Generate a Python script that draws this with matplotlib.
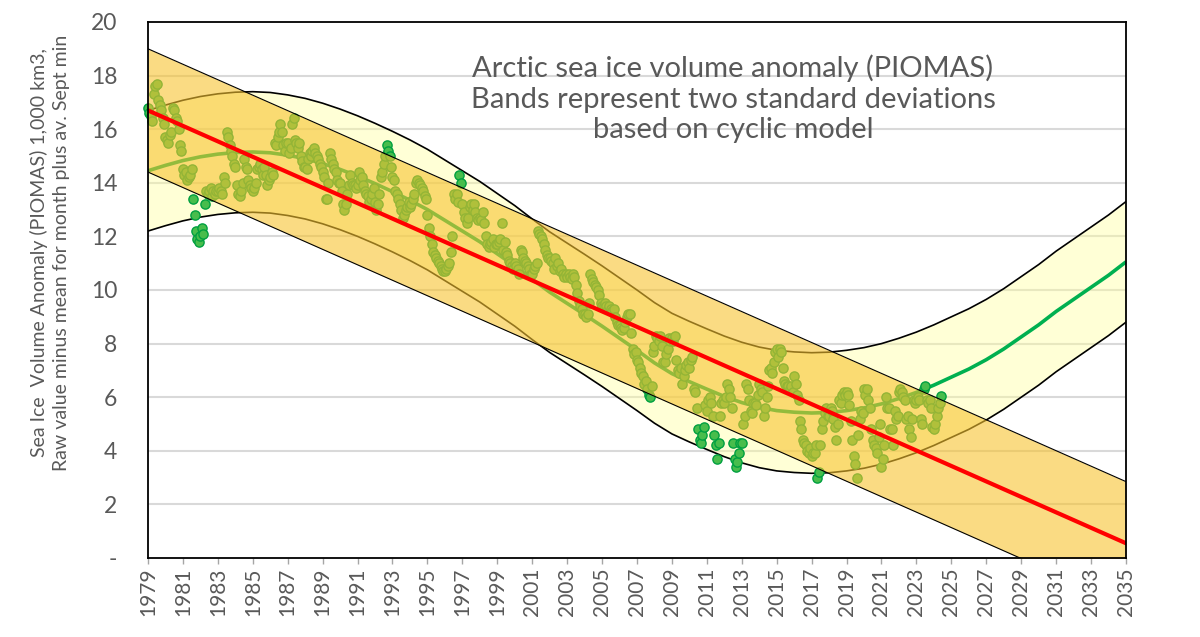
import numpy as np
import matplotlib
matplotlib.use("Agg")
import matplotlib.pyplot as plt

plt.rcParams['font.family'] = ['Lato', 'DejaVu Sans']

# ---------------- data ----------------
# monthly values (Jan..Dec), 1,000 km3
vals_1979_1988 = [
    [16.8, 16.6, 16.5, 16.3, 17.3, 17.6, 17.7, 17.1, 16.9, 16.7, 16.4, 16.2],
    [15.7, 15.6, 15.5, 15.8, 15.9, 16.8, 16.7, 16.4, 16.3, 16.0, 15.4, 15.2],
    [14.5, 14.3, 14.4, 14.1, 14.2, 14.3, 14.5, 13.4, 12.8, 12.2, 11.9, 11.8],
    [12.0, 12.3, 12.1, 13.2, 13.7, 13.6, 13.7, 13.8, 13.5, 13.7, 13.6, 13.7],
    [13.7, 13.8, 13.7, 13.6, 14.2, 14.0, 15.9, 15.7, 15.4, 15.2, 15.0, 14.7],
    [14.6, 13.9, 13.6, 13.5, 13.7, 14.0, 14.9, 14.6, 14.5, 14.1, 13.9, 13.8],
    [13.7, 13.8, 14.0, 14.5, 14.6, 14.7, 14.5, 14.3, 14.6, 14.3, 13.9, 14.1],
    [14.2, 14.4, 14.3, 15.5, 15.4, 15.7, 15.9, 16.2, 15.9, 15.4, 15.2, 15.5],
    [15.5, 15.1, 15.3, 16.2, 16.4, 15.6, 15.5, 15.3, 15.5, 15.0, 14.8, 14.6],
    [14.6, 14.5, 14.9, 15.1, 15.0, 15.2, 15.3, 15.1, 15.0, 14.9, 14.7, 14.6],
]
vals_1989_1998 = [
    [14.4, 14.2, 13.4, 13.4, 14.0, 15.1, 14.9, 14.7, 14.5, 14.4, 14.1, 14.0],
    [14.0, 13.7, 13.2, 13.0, 13.2, 13.6, 13.9, 14.3, 14.0, 13.9, 13.9, 13.8],
    [13.9, 14.4, 14.1, 14.2, 13.9, 13.7, 13.6, 13.5, 13.3, 13.4, 13.6, 13.8],
    [13.3, 13.0, 13.2, 13.6, 14.2, 14.4, 14.7, 15.0, 15.4, 15.2, 15.0, 14.6],
    [14.2, 14.1, 13.7, 13.6, 13.4, 13.2, 13.0, 12.7, 12.8, 13.0, 13.1, 13.3],
    [13.1, 13.2, 13.4, 13.6, 14.0, 14.1, 14.0, 13.9, 13.8, 13.7, 13.5, 13.4],
    [12.8, 12.3, 12.0, 11.7, 11.4, 11.3, 11.2, 11.1, 11.0, 10.9, 10.8, 10.7],
    [10.7, 10.8, 10.9, 11.0, 11.4, 12.0, 13.6, 13.4, 13.6, 13.3, 14.3, 14.0],
    [13.2, 12.9, 12.7, 12.5, 12.7, 13.1, 13.2, 13.0, 13.2, 12.9, 12.7, 12.6],
    [12.7, 12.6, 12.9, 12.5, 12.0, 11.7, 11.6, 11.7, 11.8, 11.9, 11.6, 11.7],
]
vals_1999_2008 = [
    [11.7, 11.8, 11.9, 12.5, 11.5, 11.8, 11.4, 11.3, 11.1, 11.0, 10.9, 10.8],
    [11.0, 10.9, 10.8, 10.6, 11.5, 11.4, 11.2, 11.1, 11.0, 10.9, 10.8, 10.6],
    [10.6, 10.8, 10.9, 11.0, 12.2, 12.1, 12.0, 11.9, 11.7, 11.5, 11.3, 11.2],
    [11.2, 11.1, 11.0, 10.8, 11.2, 10.9, 11.0, 10.7, 10.8, 10.6, 10.5, 10.6],
    [10.5, 10.6, 10.5, 10.4, 10.6, 10.5, 10.2, 9.9, 9.6, 9.4, 9.3, 9.1],
    [9.1, 9.0, 9.1, 9.5, 10.6, 10.4, 10.3, 10.2, 10.1, 10.0, 9.8, 9.5],
    [9.4, 9.4, 9.5, 9.4, 9.3, 9.4, 9.3, 9.2, 9.3, 9.0, 8.8, 8.7],
    [8.7, 8.6, 8.5, 8.6, 8.8, 9.0, 9.1, 9.1, 8.4, 7.8, 7.6, 7.7],
    [7.4, 7.3, 7.1, 6.9, 6.8, 6.5, 6.6, 6.3, 6.1, 6.0, 6.4, 7.7],
    [7.9, 8.3, 8.2, 8.1, 8.3, 7.9, 7.3, 7.3, 7.6, 7.8, 8.2, 8.1],
]
vals_2009_2018 = [
    [8.2, 8.1, 8.3, 7.4, 7.0, 6.9, 7.1, 6.5, 6.8, 7.0, 7.2, 7.3],
    [7.1, 7.4, 7.5, 6.3, 6.2, 5.6, 4.8, 4.4, 4.3, 4.6, 4.9, 5.7],
    [5.5, 5.9, 6.0, 5.8, 5.3, 4.6, 4.2, 3.7, 4.3, 5.3, 5.8, 5.9],
    [5.8, 6.0, 6.5, 6.3, 6.0, 5.6, 4.3, 3.7, 3.4, 3.6, 3.9, 4.3],
    [4.3, 5.0, 5.3, 6.5, 6.3, 5.9, 5.5, 5.4, 5.8, 5.8, 5.7, 6.1],
    [6.5, 6.3, 6.2, 5.3, 5.6, 6.0, 6.4, 7.0, 7.1, 6.9, 7.3, 7.7],
    [7.8, 7.5, 7.8, 7.7, 7.1, 6.6, 6.5, 6.4, 6.4, 6.3, 6.4, 6.2],
    [6.8, 6.5, 6.1, 5.9, 5.1, 4.8, 4.4, 4.3, 4.2, 4.0, 3.9, 4.1],
    [3.8, 3.9, 3.9, 4.2, 3.0, 3.2, 4.2, 4.8, 5.1, 5.4, 5.6, 5.3],
    [5.3, 5.6, 5.5, 5.2, 4.9, 4.4, 5.0, 5.9, 5.8, 6.1, 6.2, 6.1],
]
vals_2019_2024 = [
    [6.2, 6.1, 5.7, 5.1, 4.4, 3.8, 3.5, 3.0, 4.6, 5.2, 5.5, 5.4],
    [6.3, 6.1, 6.3, 5.9, 5.6, 4.8, 4.4, 4.2, 4.1, 3.9, 4.5, 5.0],
    [3.4, 3.7, 4.2, 6.0, 5.6, 5.6, 4.8, 4.8, 4.2, 5.5, 5.2, 5.3],
    [6.2, 6.3, 6.2, 6.0, 5.9, 5.2, 5.3, 4.8, 4.5, 5.2, 5.9, 5.8],
    [5.9, 6.0, 5.9, 5.2, 5.0, 6.3, 6.4, 5.9, 5.8, 5.9, 5.6, 4.9],
    [4.8, 5.0, 5.3, 5.6, 5.8, 6.05],
]

# cyclic model (annual values)
model_years = list(range(1979, 2036))
model_vals = [14.45, 14.65, 14.83, 14.97, 15.07, 15.13, 15.15, 15.12, 15.03, 14.9,
              14.72, 14.5, 14.25, 13.97, 13.67, 13.35, 13.0, 12.6, 12.2, 11.8,
              11.35, 10.9, 10.4, 9.92, 9.5, 9.08, 8.65, 8.2, 7.75, 7.28,
              6.88, 6.58, 6.3, 6.03, 5.8, 5.62, 5.5, 5.44, 5.41, 5.43,
              5.5, 5.6, 5.75, 5.95, 6.18, 6.45, 6.75, 7.05, 7.4, 7.8,
              8.25, 8.7, 9.2, 9.65, 10.1, 10.55, 11.05]
model_band = 2.25          # two standard deviations (cyclic model)

# linear trend
trend_years = [1979, 2035]
trend_vals = [16.7, 0.55]
trend_band = 2.3           # two standard deviations (linear model)

x_ticks = list(range(1979, 2036, 2))
y_ticks = list(range(0, 21, 2))
y_ticklabels = ['-'] + [str(v) for v in y_ticks[1:]]

title = ("Arctic sea ice volume anomaly (PIOMAS)\n"
         "Bands represent two standard deviations\n"
         "based on cyclic model")
ylabel = ("Sea Ice  Volume Anomaly (PIOMAS) 1,000 km3,\n"
          "Raw value minus mean for month plus av. Sept min")

# ---------------- build series ----------------
first_year = 1979
obs_y = []
for block in (vals_1979_1988, vals_1989_1998, vals_1999_2008, vals_2009_2018, vals_2019_2024):
    for row in block:
        obs_y.extend(row)
obs_y = np.array(obs_y)
obs_x = first_year + np.arange(len(obs_y)) / 12.0

my = np.array(model_years, dtype=float)
mv = np.array(model_vals)
ty = np.array(trend_years, dtype=float)
tv = np.array(trend_vals)

# ---------------- figure ----------------
W, H = 1200, 637
fig = plt.figure(figsize=(W / 100, H / 100), dpi=100)
L, R, T, B = 148, 1126, 22, 558
ax = fig.add_axes([L / W, (H - B) / H, (R - L) / W, (B - T) / H])

grey = '#595959'
for v in y_ticks[1:-1]:
    ax.axhline(v, color='#d9d9d9', lw=1.5, zorder=0)

# cyclic band
ax.fill_between(my, mv - model_band, mv + model_band, color='#ffff99', alpha=0.4,
                lw=0, zorder=1)
ax.plot(my, mv + model_band, color='black', lw=1.2, zorder=2)
ax.plot(my, mv - model_band, color='black', lw=1.2, zorder=2)
ax.plot(my, mv, color='#00b050', lw=2.6, zorder=3, solid_capstyle='butt')

# observations
ax.scatter(obs_x, obs_y, s=44, facecolor='#48bd4c', edgecolor='#00a040',
           linewidths=1.0, zorder=4, clip_on=False)

# trend band (semi transparent, on top)
ax.fill_between(ty, tv - trend_band, tv + trend_band, color='#f7c330', alpha=0.6,
                lw=0, zorder=5)
ax.plot(ty, tv + trend_band, color='black', lw=0.8, zorder=6)
ax.plot(ty, tv - trend_band, color='black', lw=0.8, zorder=6)
ax.plot(ty, tv, color='#ff0000', lw=3.0, zorder=7)

ax.set_xlim(1979, 2035)
ax.set_ylim(0, 20)
ax.set_xticks(x_ticks)
ax.set_xticklabels([str(t) for t in x_ticks], rotation=90, fontsize=15, color=grey)
ax.set_yticks(y_ticks)
ax.set_yticklabels(y_ticklabels, fontsize=16.5, color=grey)
ax.tick_params(axis='x', length=4, width=1, color='#a6a6a6', pad=3, direction='out')
ax.tick_params(axis='y', length=0, pad=22)
for s in ax.spines.values():
    s.set_color('black')
    s.set_linewidth(1.3)
    s.set_zorder(10)

ax.text((733 - L) / (R - L), (B - 99) / (B - T), title, transform=ax.transAxes,
        ha='center', va='center', fontsize=21, color=grey, linespacing=1.22, zorder=12)

fig.text(50 / W, 1 - 253 / H, ylabel, rotation=90, ha='center', va='center',
         fontsize=14, color=grey, linespacing=1.35)

fig.savefig('out.png', dpi=100)
